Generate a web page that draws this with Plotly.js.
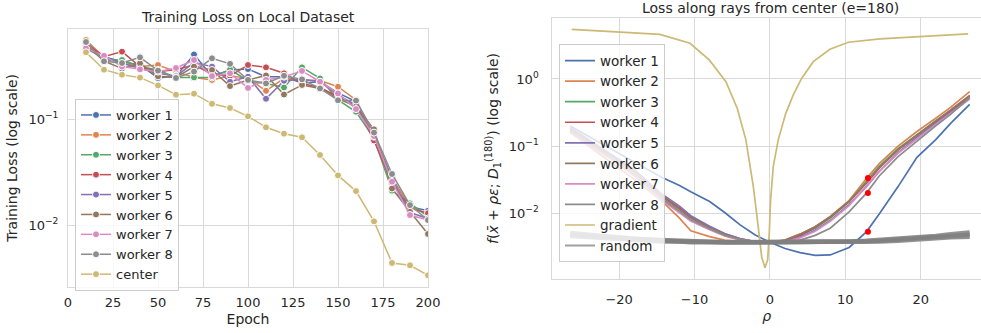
<!DOCTYPE html>
<html><head><meta charset="utf-8">
<script src="https://cdn.plot.ly/plotly-3.0.1.min.js"></script>
<style>html,body{margin:0;padding:0;overflow:hidden;background:#fff}</style>
</head><body><div id="chart" style="width:981px;height:333px"></div>
<script>
// ---------- Left chart data ----------
const epochs = [10,20,30,40,50,60,70,80,90,100,110,120,130,140,150,160,170,180,190,200];
const worker1 = [0.52,0.386,0.346,0.322,0.243,0.253,0.405,0.253,0.289,0.295,0.250,0.250,0.218,0.224,0.176,0.146,0.0707,0.0277,0.0150,0.0137];
const worker2 = [0.553,0.38,0.334,0.311,0.322,0.279,0.246,0.233,0.255,0.241,0.184,0.241,0.233,0.230,0.201,0.151,0.0682,0.0268,0.0155,0.0125];
const worker3 = [0.508,0.359,0.359,0.311,0.289,0.246,0.246,0.246,0.292,0.229,0.216,0.198,0.306,0.241,0.151,0.117,0.0658,0.0212,0.0161,0.0121];
const worker4 = [0.515,0.386,0.43,0.311,0.279,0.292,0.322,0.265,0.255,0.322,0.306,0.269,0.216,0.198,0.162,0.135,0.0628,0.0249,0.0145,0.0130];
const worker5 = [0.462,0.372,0.334,0.300,0.269,0.253,0.339,0.311,0.224,0.250,0.155,0.229,0.236,0.224,0.168,0.135,0.0682,0.0268,0.0132,0.0116];
const worker6 = [0.497,0.351,0.298,0.334,0.252,0.246,0.311,0.289,0.204,0.233,0.257,0.170,0.209,0.194,0.156,0.131,0.080,0.0222,0.0134,0.0083];
const worker7 = [0.464,0.393,0.311,0.293,0.279,0.302,0.359,0.253,0.269,0.196,0.233,0.250,0.283,0.224,0.174,0.124,0.069,0.0257,0.0125,0.0112];
const worker8 = [0.53,0.349,0.336,0.38,0.285,0.243,0.279,0.372,0.330,0.233,0.216,0.255,0.236,0.194,0.150,0.149,0.0745,0.0304,0.0155,0.0112];
const center  = [0.424,0.291,0.261,0.245,0.207,0.169,0.173,0.139,0.127,0.106,0.0835,0.0728,0.0673,0.0459,0.0295,0.0210,0.0109,0.00443,0.00421,0.00339];

// ---------- Right chart data ----------
const rho = [-26.5,-24,-21,-18,-14.5,-12,-10.5,-8,-6,-4,-2,0,2,4,6,8,10.5,12.8,14.5,17,19.5,22,24,26.5];
const ray1 = [0.2,0.14,0.09,0.058,0.035,0.026,0.021,0.0150,0.0103,0.0068,0.0048,0.0037,0.0030,0.0026,0.00237,0.0024,0.0031,0.0053,0.0098,0.025,0.068,0.125,0.22,0.42];
const ray2 = [0.16,0.10,0.058,0.032,0.0158,0.0085,0.0055,0.0045,0.0040,0.0038,0.0037,0.0037,0.0040,0.0049,0.0063,0.0090,0.0155,0.033,0.055,0.10,0.165,0.26,0.38,0.65];
const ray3 = [0.17,0.11,0.065,0.037,0.0165,0.0105,0.0078,0.0058,0.0047,0.0041,0.0038,0.0037,0.0039,0.0047,0.0060,0.0085,0.0148,0.030,0.050,0.092,0.15,0.24,0.34,0.56];
const ray4 = [0.18,0.12,0.072,0.042,0.019,0.0120,0.0088,0.0062,0.0049,0.0042,0.0038,0.0037,0.0039,0.0047,0.0062,0.0088,0.015,0.028,0.047,0.088,0.145,0.23,0.33,0.55];
const ray5 = [0.19,0.125,0.076,0.045,0.020,0.0128,0.0092,0.0064,0.0050,0.0042,0.0038,0.0037,0.0038,0.0044,0.0056,0.0078,0.0135,0.025,0.042,0.080,0.135,0.22,0.32,0.52];
const ray6 = [0.17,0.115,0.070,0.041,0.018,0.0115,0.0085,0.0061,0.0049,0.0041,0.0038,0.0037,0.0040,0.0049,0.0063,0.0088,0.015,0.029,0.048,0.089,0.145,0.235,0.34,0.57];
const ray7 = [0.16,0.105,0.063,0.036,0.016,0.0102,0.0077,0.0057,0.0046,0.0040,0.0038,0.0037,0.0038,0.0043,0.0054,0.0076,0.013,0.025,0.042,0.078,0.13,0.21,0.31,0.50];
const ray8 = [0.165,0.11,0.066,0.038,0.017,0.0108,0.0080,0.0059,0.0047,0.0041,0.0038,0.0037,0.0037,0.0040,0.0047,0.0060,0.0105,0.020,0.036,0.070,0.12,0.20,0.30,0.53];
const randomA = [0.0051,0.0048,0.0045,0.0042,0.0040,0.0039,0.0038,0.0038,0.0037,0.0037,0.0037,0.0037,0.0037,0.0037,0.0037,0.0038,0.0038,0.0039,0.0040,0.0042,0.0044,0.0046,0.0049,0.0052];
const randomB = [0.0048,0.0046,0.0043,0.0041,0.0039,0.0038,0.0038,0.0037,0.0037,0.0037,0.0037,0.0037,0.0037,0.0037,0.0037,0.0037,0.0038,0.0038,0.0039,0.0041,0.0042,0.0044,0.0046,0.0048];
const randomC = [0.0046,0.0044,0.0042,0.0040,0.0038,0.0038,0.0037,0.0037,0.0037,0.0037,0.0037,0.0037,0.0037,0.0037,0.0037,0.0037,0.0037,0.0038,0.0038,0.0039,0.0041,0.0042,0.0044,0.0045];
const gradRho = [-26.3,-14.6,-10.6,-8.05,-5.84,-4.34,-3.19,-2.2,-1.55,-1.1,-0.66,-0.3,-0.09,0.09,0.44,1.1,2.1,3.1,4.2,5.75,7.96,10.4,14.6,19.9,26.3];
const gradient = [5.49,4.62,3.40,1.92,0.91,0.366,0.124,0.0249,0.0063,0.00226,0.00155,0.00203,0.0050,0.0158,0.0496,0.124,0.308,0.578,1.02,1.81,2.77,3.52,3.94,4.27,4.68];
const dotRho = [13.0,13.0,13.0];
const dotVals = [0.0336,0.0200,0.0053];

const workerNames = ['worker 1','worker 2','worker 3','worker 4','worker 5','worker 6','worker 7','worker 8'];
const colors = ['#4c72b0','#dd8452','#55a868','#c44e52','#8172b3','#937860','#da8bc3','#8c8c8c'];
const gold = '#ccb974';

const FONT = 'DejaVu Sans, sans-serif';
const TXT = '#262626';
const GRID = '#d9d9d9';

const leftSeries = [worker1,worker2,worker3,worker4,worker5,worker6,worker7,worker8];
const raySeries = [ray1,ray2,ray3,ray4,ray5,ray6,ray7,ray8];

const traces = [];
leftSeries.forEach((ys,i)=>{
  traces.push({x:epochs,y:ys,name:workerNames[i],type:'scatter',mode:'lines+markers',
    xaxis:'x',yaxis:'y',legend:'legend',
    line:{color:colors[i],width:1.5},
    marker:{color:colors[i],size:7,line:{color:'#ffffff',width:1}}});
});
traces.push({x:epochs,y:center,name:'center',type:'scatter',mode:'lines+markers',
  xaxis:'x',yaxis:'y',legend:'legend',
  line:{color:gold,width:1.5},marker:{color:gold,size:7,line:{color:'#ffffff',width:1}}});

raySeries.forEach((ys,i)=>{
  traces.push({x:rho,y:ys,name:workerNames[i],type:'scatter',mode:'lines',
    xaxis:'x2',yaxis:'y2',legend:'legend2',
    line:{color:colors[i],width:1.7}});
});
traces.push({x:gradRho,y:gradient,name:'gradient',type:'scatter',mode:'lines',
  xaxis:'x2',yaxis:'y2',legend:'legend2',line:{color:gold,width:1.7}});
[randomA,randomB,randomC].forEach((ys,k)=>{
  traces.push({x:rho,y:ys,name:'random',type:'scatter',mode:'lines',
    xaxis:'x2',yaxis:'y2',legend:'legend2',showlegend:false,
    line:{color:'rgba(128,128,128,0.85)',width:4.5}});
});
// legend entry for the random band (thin line, as in the reference legend)
traces.push({x:[null],y:[null],name:'random',type:'scatter',mode:'lines',
  xaxis:'x2',yaxis:'y2',legend:'legend2',
  line:{color:'rgba(128,128,128,0.75)',width:2}});
traces.push({x:dotRho,y:dotVals,type:'scatter',mode:'markers',showlegend:false,
  xaxis:'x2',yaxis:'y2',marker:{color:'#ff0000',size:6}});

const axBase = {showline:true,linecolor:GRID,linewidth:1,gridcolor:GRID,gridwidth:1,
  zeroline:false,ticks:'',tickfont:{family:FONT,size:13,color:TXT}};

const layout = {
  width:981,height:333,margin:{l:0,r:0,t:0,b:0},
  paper_bgcolor:'#ffffff',plot_bgcolor:'#ffffff',
  font:{family:FONT,size:13,color:TXT},
  showlegend:true,
  xaxis:Object.assign({},axBase,{domain:[68/981,428/981],range:[0,200],mirror:true,
    tickvals:[0,25,50,75,100,125,150,175,200],ticklabelstandoff:4,
    title:{text:'Epoch',font:{family:FONT,size:14,color:TXT},standoff:4},anchor:'y'}),
  yaxis:Object.assign({},axBase,{domain:[(333-286.7)/333,(333-29)/333],type:'log',
    range:[-2.577,-0.1536],mirror:true,tickvals:[0.01,0.1],
    ticktext:['10<sup>\u22122</sup>','10<sup>\u22121</sup>'],ticklabelstandoff:6,
    title:{text:'Training Loss (log scale)',font:{family:FONT,size:14,color:TXT},standoff:7},anchor:'x'}),
  xaxis2:Object.assign({},axBase,{domain:[552.3/981,1],range:[-28.87,28.0],mirror:true,
    tickvals:[-20,-10,0,10,20],ticklabelstandoff:8,
    title:{text:'<i>\u03c1</i>',font:{family:FONT,size:14,color:TXT},standoff:5},anchor:'y2'}),
  yaxis2:Object.assign({},axBase,{domain:[(333-279.3)/333,(333-17.7)/333],type:'log',
    range:[-2.982,0.912],mirror:false,tickvals:[0.01,0.1,1],
    ticktext:['10<sup>\u22122</sup>','10<sup>\u22121</sup>','10<sup>0</sup>'],ticklabelstandoff:10,
    title:{text:'<i>f</i>(<i>x\u0304</i> + <i>\u03c1\u03b5</i>; <i>D</i><sub>1</sub><sup>(180)</sup>) (log scale)',
      font:{family:FONT,size:14,color:TXT},standoff:6},anchor:'x2'}),
  legend:{x:75/981,y:(333-99)/333,xanchor:'left',yanchor:'top',bgcolor:'rgba(255,255,255,0.8)',
    bordercolor:'#cccccc',borderwidth:1,font:{family:FONT,size:13,color:TXT}},
  legend2:{x:559/981,y:(333-44.3)/333,xanchor:'left',yanchor:'top',bgcolor:'rgba(255,255,255,0.8)',
    bordercolor:'#cccccc',borderwidth:1,font:{family:FONT,size:13.5,color:TXT}},
  annotations:[
    {text:'Training Loss on Local Dataset',xref:'paper',yref:'paper',x:248/981,y:1-17/333,
     xanchor:'center',yanchor:'middle',showarrow:false,font:{family:FONT,size:14,color:TXT}},
    {text:'Loss along rays from center (e=180)',xref:'paper',yref:'paper',x:770/981,y:1-8/333,
     xanchor:'center',yanchor:'middle',showarrow:false,font:{family:FONT,size:14,color:TXT}}
  ]
};

Plotly.newPlot('chart',traces,layout,{staticPlot:true,displayModeBar:false});
</script></body></html>
